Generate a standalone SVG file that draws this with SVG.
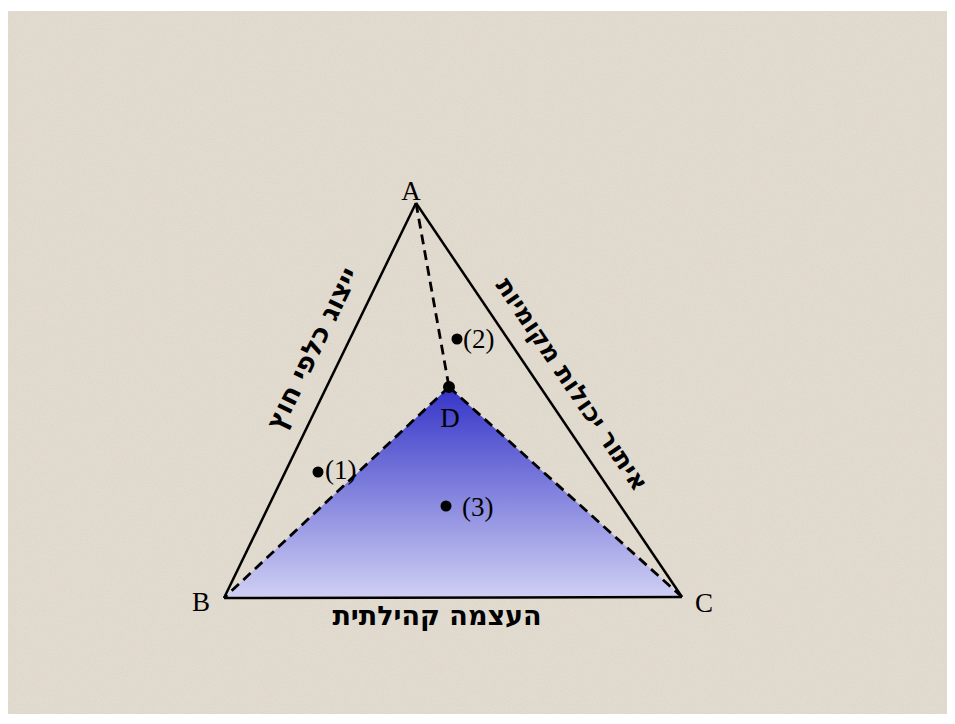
<svg xmlns="http://www.w3.org/2000/svg" width="955" height="724" viewBox="0 0 955 724">
  <defs>
    <linearGradient id="blueGrad" x1="0" y1="0" x2="0" y2="1">
      <stop offset="0" stop-color="#3434c8"/>
      <stop offset="1" stop-color="#d0d0f4"/>
    </linearGradient>
    <filter id="grain" x="0" y="0" width="100%" height="100%">
      <feTurbulence type="fractalNoise" baseFrequency="0.9" numOctaves="2" seed="3" result="n"/>
      <feColorMatrix in="n" type="matrix" values="0 0 0 0 0.5  0 0 0 0 0.45  0 0 0 0 0.4  0 0 0 -0.9 0.55" result="c"/>
      <feComposite in="c" in2="SourceGraphic" operator="in"/>
    </filter>
  </defs>
  <style>
    .lat { font-family: "Liberation Serif", "Times New Roman", serif; font-size: 27px; fill: #000; }
    .heb { font-family: "DejaVu Sans", "Liberation Sans", sans-serif; font-size: 27px; font-weight: bold; fill: #000; }
    .solid { stroke: #000; stroke-width: 2.5; fill: none; }
    .dash { stroke: #000; stroke-width: 2.8; fill: none; stroke-dasharray: 10 6; }
  </style>
  <rect x="0" y="0" width="955" height="724" fill="#ffffff"/>
  <rect x="8" y="11" width="939" height="703" fill="#e2dbcf"/>
  <rect x="8" y="11" width="939" height="703" fill="#e2dbcf" filter="url(#grain)" opacity="0.35"/>

  <g id="region-BDC">
    <polygon points="224,598 449,387 682,597" fill="url(#blueGrad)"/>
  </g>

  <g id="connectors">
    <line class="solid" x1="416" y1="203" x2="224" y2="598"/>
    <line class="solid" x1="416" y1="203" x2="682" y2="597"/>
    <line class="solid" x1="224" y1="598" x2="682" y2="597"/>
    <line class="dash" x1="416" y1="203" x2="449" y2="387"/>
    <line class="dash" x1="449" y1="387" x2="224" y2="598"/>
    <line class="dash" x1="449" y1="387" x2="682" y2="597"/>
  </g>

  <g id="node-A">
    <text class="lat" x="411" y="200" text-anchor="middle">A</text>
  </g>
  <g id="node-B">
    <text class="lat" x="201" y="611" text-anchor="middle">B</text>
  </g>
  <g id="node-C">
    <text class="lat" x="704" y="612" text-anchor="middle">C</text>
  </g>
  <g id="node-D">
    <circle cx="449" cy="387" r="6" fill="#000"/>
    <text class="lat" x="450" y="427" text-anchor="middle">D</text>
  </g>
  <g id="point-1">
    <circle cx="318" cy="472" r="5.5" fill="#000"/>
    <text class="lat" x="325" y="479">(1)</text>
  </g>
  <g id="point-2">
    <circle cx="457" cy="339" r="5.5" fill="#000"/>
    <text class="lat" x="463" y="348">(2)</text>
  </g>
  <g id="point-3">
    <circle cx="446" cy="506" r="5.5" fill="#000"/>
    <text class="lat" x="462" y="516">(3)</text>
  </g>

  <g id="label-left">
    <text class="heb" direction="rtl" text-anchor="middle" transform="translate(320.5,352.5) rotate(-64)">ייצוג כלפי חוץ</text>
  </g>
  <g id="label-right">
    <text class="heb" direction="rtl" text-anchor="middle" style="font-size:25px" transform="translate(565,389) rotate(56)">איתור יכולות מקומיות</text>
  </g>
  <g id="label-bottom">
    <text class="heb" direction="rtl" text-anchor="middle" x="437" y="625">העצמה קהילתית</text>
  </g>
</svg>
